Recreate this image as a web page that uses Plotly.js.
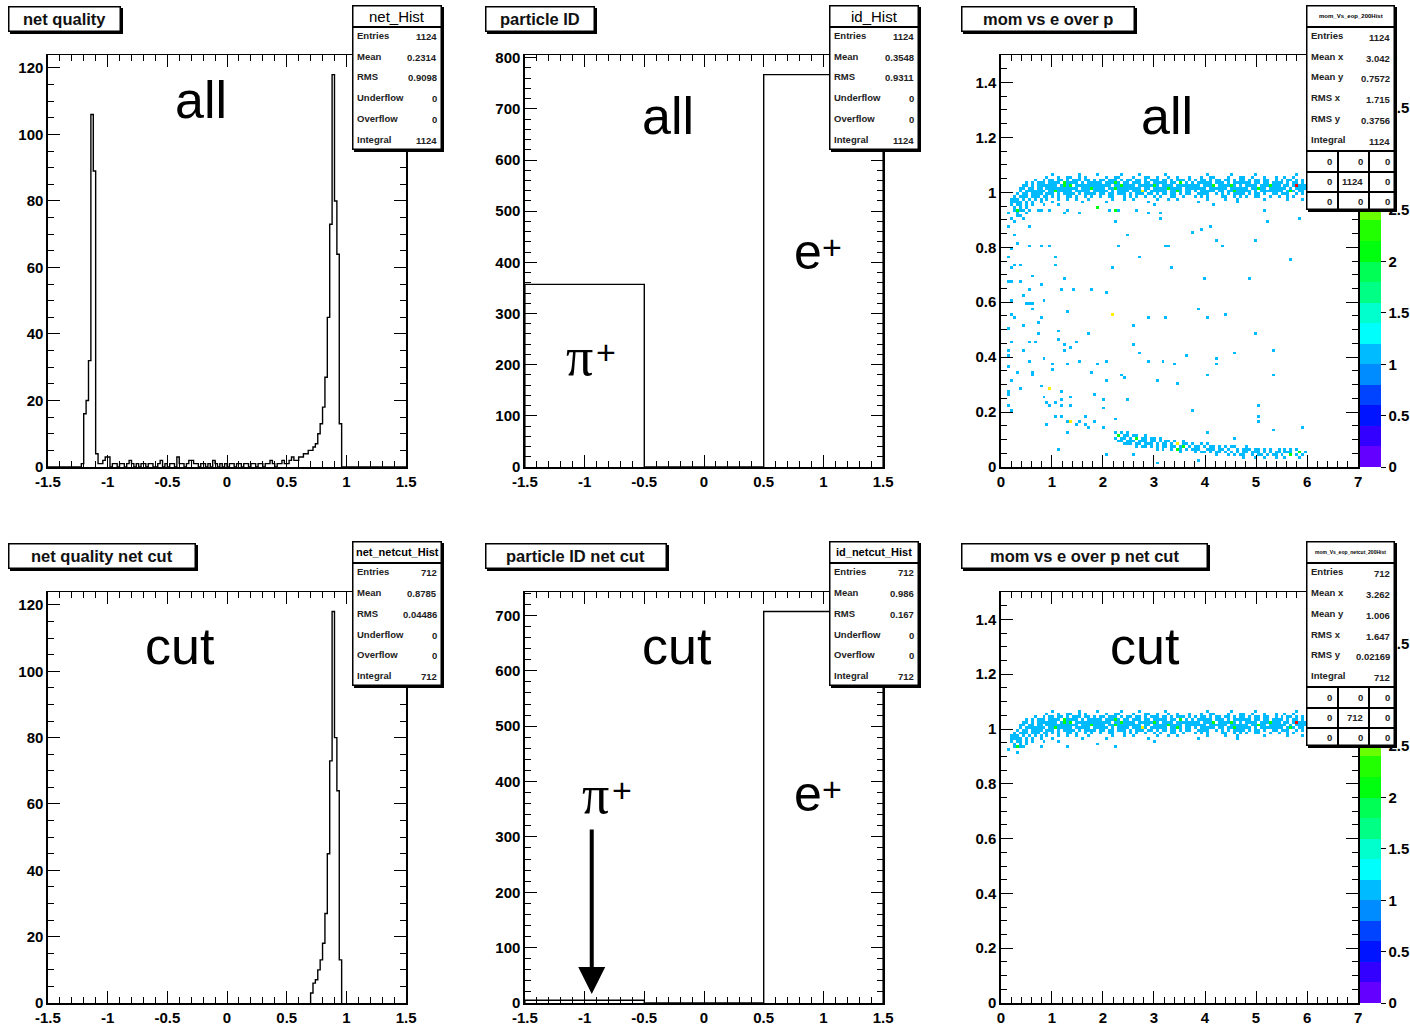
<!DOCTYPE html>
<html><head><meta charset="utf-8">
<script src="https://cdn.plot.ly/plotly-3.0.1.min.js"></script>
<style>html,body{margin:0;padding:0;background:#fff}#chart{width:1410px;height:1025px}</style>
</head><body><div id="chart"></div>
<script>
// ================= DATA =================
// net quality histogram: 150 bins of 0.02 from -1.5 to 1.5
const netBinLow = -1.5, netBinWidth = 0.02;
const netAllCounts = [
 0,0,0,0,0,0,0,0,0,0,
 0,0,0,0,1,16,20,32,106,89,
 4,1,1,2,3,3,0,1,1,0,
 1,1,0,1,2,1,0,1,0,1,
 1,0,1,1,0,0,1,2,0,1,
 0,1,1,0,3,1,1,0,1,2,
 2,1,1,0,1,1,0,1,0,2,
 1,0,1,0,1,0,1,1,0,1,
 1,0,1,1,0,1,1,0,1,1,
 0,1,1,2,1,0,1,1,2,1,
 1,2,3,2,2,3,3,4,4,5,
 5,6,7,10,13,18,27,45,73,118,
 80,64,13,0,0,0,0,0,0,0,
 0,0,0,0,0,0,0,0,0,0,
 0,0,0,0,0,0,0,0,0,0];
const netCutFirstBin = 110;
const netCutCounts = [3,6,7,10,13,18,27,45,73,118,80,64,13];

// particle ID histogram
const idEdges = [-1.5, -0.5, 0.5, 1.5];
const idAllCounts = [357, 0, 767];
const idCutCounts = [5, 0, 707];

// mom vs E/p 2D histogram: x 0..7 (120 bins), y 0..1.5 (150 bins)
const eopXMax = 7, eopYMax = 1.5, eopNX = 120, eopNY = 150;
// dense band near E/p = 1 (shared by both panels); each char = cell count, columns from col 3, rows from row 106 down
const bandFirstCol = 3, bandTopRow = 106;
const bandRows = [
 ".......... ....1..... ...1.....1 .......1.. ...1...... ..1....... ......1... ....1..... ..1....... ......1...",
 ".......... ..1...1..1 1..1.1.... ..1..11... .1...11..1 ...1..1... 1...1..11. ...1...11. .1...1...1 ..1..1....",
 "........1. .1.11.11.1 .111.11.1. 11.111.1.1 1.11.1.111 .11.1.111. 1.1.11.1.1 1.11.1.11. 1.11.11..1 .1.11.1.1.",
 ".....1.1.1 11.1111.21 111.1.1111 1.11121.11 .111.11.11 111.11.2.1 .1.11111.1 11.1.11111 1.11.11.11 11.1.11.1.",
 "....11.1.1 111111.121 2.11111111 1111.11211 11.1111121 .1111.1111 1111.1112. 111121.1.1 111.111211 1.11.14111",
 "...11.11.1 1.11111111 111.111211 11.1121111 1111.11.11 11121111.1 111111.111 111.111111 .11211.111 111.1.1111",
 "...1.11111 11.1121111 1.11111.11 111.1.1111 .11131.111 111.1121.1 1.1.11111. 11.1121111 1.1.111111 11.121.11.",
 "..1.11.111 1.111.1.11 11.1.1111. 11.11.111. 1.111.11.1 .11.11.1.1 1..1111..1 .1.1.1111. 1.11.1..11 .111..1.1.",
 ".1.111.111 .11.1.1..1 1.1..1.1.. 1..11...1. 1.1..1..1. 1...11..1. ..1.1.1... .11..1.1.1 ..11...1.. 1..1.1....",
 "111.1.1.1. 1.1...1..1 ..1...1... ....1...1. .1.......1 ...1..1... ......1... ..1...1... .....1.... ...1....1.",
 "1111.1.1.. 1...1..... ....1..... ..1....... ......1... .......... ...1...... ......1... .......... ..........",
 "1.11.1.1.. .1",
 ".1.1.1....",
 "..1.1"];
// low E/p band (all tracks only); columns from col 38, rows from row 12 down
const lowFirstCol = 38, lowTopRow = 12;
const lowRows = [
 "1.1.1..... ..........",
 ".2.11.11.. 1.........",
 "1.11.1.2.1 1.11.1....",
 ".11.111.11 1.11.1.11. 1..1......",
 "...111.11. 111.1.11.1 .3.11.1..1 .1........",
 ".......1.1 1.1.1.11.1 1.12.1.11. 1.11.1.1.1 1...1.....",
 ".......... ....1.1..1 .21.1.111. .111.11.1. .1.111.11. 1.1..1.1.1 .1...",
 ".......... .......... ..1....1.1 1.1.11.1.1 .1.11.111. 1.1.11.111 ..2.1",
 ".......... .......... .......... ....1...1. 1.11..1.11 .1.11.1..2 .1.1.",
 ".......... .......... .......... .......... ...1...1.. 1...1..1.. ..1.."];
// scattered cells that pass the cut (x = momentum, y = E/p)
const cutSparseX = [0.14,0.34,0.27,0.33,0.40,0.76,1.16,1.31,1.88,2.27,2.98];
const cutSparseY = [0.92,0.91,0.94,0.94,0.94,0.94,0.95,0.94,0.945,0.94,0.958];
// scattered cells, all tracks only
const allSparseX = [0.56,0.72,0.95,1.28,1.54,1.88,2.13,2.22,2.32,2.27,2.68,2.91,3.10,3.10,4.18,5.19,5.23,5.89,
 0.27,0.43,0.56,0.27,0.33,0.56,0.20,0.76,0.95,1.10,1.05,2.45,2.30,2.74,3.23,3.30,3.33,3.75,3.92,4.11,4.24,4.37,4.97,5.68,
 0.23,0.27,0.37,0.17,0.23,0.40,0.63,0.78,1.25,0.58,1.18,1.41,1.75,2.09,2.19,4.00,4.86,
 0.43,0.49,0.56,0.64,0.85,0.20,0.63,0.76,0.20,0.27,0.46,0.72,1.34,2.16,2.89,3.23,3.90,4.03,4.43,2.61,
 1.11,0.72,1.73,4.96,0.20,0.14,0.43,0.56,0.66,1.11,1.25,1.28,1.39,1.49,2.61,2.74,3.64,4.21,4.23,4.56,5.35,
 0.58,0.85,1.02,1.32,1.56,1.88,2.08,2.88,3.20,3.41,0.12,0.32,0.64,0.64,1.02,1.77,2.39,2.41,2.08,3.06,3.46,4.08,5.35,
 0.20,0.37,0.79,0.97,1.19,0.84,0.89,0.98,1.10,1.18,1.21,1.36,1.38,1.86,2.01,2.01,2.45,0.14,0.20,
 1.10,1.18,1.36,1.32,1.49,1.69,1.56,1.65,1.73,1.86,2.01,2.22,0.89,1.34,3.77,5.02,5.04,5.02,5.32,5.91,4.05,4.57,
 1.11,2.06,2.61,3.08,3.89,0.14,0.17,0.14,0.17,0.12,0.17,0.33,0.40,0.47,0.23];
const allSparseY = [0.94,0.93,0.933,0.921,0.921,0.949,0.94,0.94,0.94,0.897,0.94,0.921,0.925,0.90,0.95,0.93,0.897,0.90,
 0.897,0.903,0.878,0.842,0.818,0.808,0.793,0.80,0.80,0.738,0.766,0.842,0.808,0.766,0.80,0.805,0.72,0.85,0.86,0.878,0.827,0.80,0.827,0.759,
 0.72,0.73,0.738,0.671,0.671,0.671,0.696,0.669,0.68,0.647,0.647,0.641,0.647,0.637,0.72,0.688,0.68,
 0.62,0.598,0.598,0.598,0.608,0.604,0.58,0.549,0.556,0.545,0.519,0.523,0.568,0.558,0.549,0.549,0.576,0.549,0.558,0.516,
 0.498,0.489,0.489,0.489,0.452,0.421,0.421,0.452,0.452,0.464,0.446,0.42,0.43,0.45,0.44,0.418,0.409,0.397,0.373,0.418,0.428,
 0.385,0.397,0.376,0.376,0.381,0.376,0.385,0.385,0.381,0.376,0.367,0.348,0.348,0.33,0.357,0.345,0.336,0.324,0.315,0.315,0.308,0.336,0.336,
 0.318,0.288,0.296,0.284,0.275,0.257,0.239,0.22,0.23,0.22,0.24,0.257,0.22,0.267,0.245,0.215,0.24,0.227,0.202,
 0.186,0.184,0.169,0.162,0.158,0.186,0.16,0.15,0.145,0.162,0.145,0.178,0.156,0.129,0.206,0.223,0.186,0.169,0.138,0.145,0.125,0.105,
 0.068,0.048,0.048,0.016,0.026,0.87,0.76,0.50,0.40,0.27,0.26,0.925,0.915,0.925,0.905];
const allSparseDouble = [[2.16,0.558],[0.97,0.284],[1.36,0.169]];

// axis tick labels
const netTickVals = [-1.5,-1,-0.5,0,0.5,1,1.5];
const netTickText = ['-1.5','-1','-0.5','0','0.5','1','1.5'];
const netYVals = [0,20,40,60,80,100,120];
const idYAllVals = [0,100,200,300,400,500,600,700,800];
const idYCutVals = [0,100,200,300,400,500,600,700];
const momTickVals = [0,1,2,3,4,5,6,7];
const eopTickVals = [0,0.2,0.4,0.6,0.8,1,1.2,1.4];
const eopTickText = ['0','0.2','0.4','0.6','0.8','1','1.2','1.4'];
const zTickVals = [0,0.5,1,1.5,2,2.5,3,3.5,4];
const zTickText = ['0','0.5','1','1.5','2','2.5','3','3.5','4'];

// titles and stats texts
const panelTitles = ['net quality','particle ID','mom vs e over p','net quality net cut','particle ID net cut','mom vs e over p net cut'];
const statsNames1D = ['Entries','Mean','RMS','Underflow','Overflow','Integral'];
const statsNames2D = ['Entries','Mean x','Mean y','RMS x','RMS y','Integral'];
const statsNetAll = ['1124','0.2314','0.9098','0','0','1124'];
const statsIdAll = ['1124','0.3548','0.9311','0','0','1124'];
const statsMomAll = ['1124','3.042','0.7572','1.715','0.3756','1124'];
const statsNetCut = ['712','0.8785','0.04486','0','0','712'];
const statsIdCut = ['712','0.986','0.167','0','0','712'];
const statsMomCut = ['712','3.262','1.006','1.647','0.02169','712'];
const gridMomAll = [['0','0','0'],['0','1124','0'],['0','0','0']];
const gridMomCut = [['0','0','0'],['0','712','0'],['0','0','0']];

// ================= DRAWING =================
const W = 1410, H = 1025;
const fx = p => p / W, fy = p => 1 - p / H;
const FONT = 'Liberation Sans, Arial, Helvetica, sans-serif';
const SERIF = 'Liberation Serif, Times New Roman, serif';

function stepXY(edges, counts) {
  const x = [edges[0]], y = [0];
  counts.forEach((c, i) => { x.push(edges[i]); y.push(c); });
  x.push(edges[edges.length - 1]); y.push(0);
  return {x, y};
}
function netEdges(first, n) { const e = []; for (let k = 0; k <= n; k++) e.push(netBinLow + (first + k) * netBinWidth); return e; }

const dxE = eopXMax / eopNX, dyE = eopYMax / eopNY;
function emptyGrid() { return Array.from({length: eopNY}, () => Array(eopNX).fill(null)); }
function addCell(z, r, c, n) { if (r < 0 || r >= eopNY || c < 0 || c >= eopNX) return; z[r][c] = Math.min(4, (z[r][c] || 0) + n); }
function addMap(z, rows, topRow, firstCol) {
  rows.forEach((s, i) => { const str = s.replace(/ /g, ''); for (let j = 0; j < str.length; j++) { if (str[j] !== '.') addCell(z, topRow - i, firstCol + j, +str[j]); } });
}
function addPts(z, xs, ys, n) { xs.forEach((x, i) => addCell(z, Math.floor(ys[i] / dyE), Math.floor(x / dxE), n)); }

const zCut = emptyGrid();
addMap(zCut, bandRows, bandTopRow, bandFirstCol);
addPts(zCut, cutSparseX, cutSparseY, 1);
const zAll = emptyGrid();
addMap(zAll, bandRows, bandTopRow, bandFirstCol);
addPts(zAll, cutSparseX, cutSparseY, 1);
addMap(zAll, lowRows, lowTopRow, lowFirstCol);
addPts(zAll, allSparseX, allSparseY, 1);
addPts(zAll, allSparseDouble.map(p => p[0]), allSparseDouble.map(p => p[1]), 2);

// ROOT-like rainbow palette, 20 contour levels
function hsl2rgb(h) { const f = n => { const k = (n + h / 30) % 12; return 0.5 - 0.5 * Math.max(-1, Math.min(k - 3, 9 - k, 1)); };
  return 'rgb(' + [f(0), f(8), f(4)].map(v => Math.round(v * 255)).join(',') + ')'; }
function levelColor(i) { const idx = Math.floor((i + 0.99) * 50 / 20); return hsl2rgb(280 - (idx + 1) * 5.6); }
const colorscale = [];
for (let i = 0; i < 20; i++) {
  const lo = i === 0 ? 0 : i / 20 - 1e-4, hi = i === 19 ? 1 : (i + 1) / 20 - 1e-4;
  colorscale.push([lo, levelColor(i)], [hi, levelColor(i)]);
}

const frames = {1:[48,55,407,467], 2:[526,55,885,467], 3:[1003,55,1361,467], 4:[48,592,407,1003], 5:[526,592,885,1003], 6:[1003,592,1361,1003]};
const tickFont = {family: FONT, size: 15, color: '#000', weight: 'bold'};
function axis(n, isX, range, vals, text, minorDtick) {
  const f = frames[n];
  return {
    domain: isX ? [fx(f[0]), fx(f[2])] : [fy(f[3]), fy(f[1])],
    anchor: (isX ? 'y' : 'x') + (n === 1 ? '' : n),
    range, tickmode: 'array', tickvals: vals, ticktext: text || vals.map(String),
    ticks: 'inside', ticklen: 12, tickwidth: 1, tickcolor: '#000',
    showline: true, linecolor: '#000', linewidth: 1.5, mirror: 'allticks',
    showgrid: false, zeroline: false, fixedrange: true, tickfont: tickFont,
    minor: {ticks: 'inside', ticklen: 6, tickwidth: 1, tickcolor: '#000', dtick: minorDtick, tick0: 0, showgrid: false}
  };
}
function cbar(bottomPx) {
  return {x: fx(1363), xanchor: 'left', xpad: 0, y: fy(bottomPx), yanchor: 'bottom', ypad: 0,
    len: 411, lenmode: 'pixels', thickness: 21, thicknessmode: 'pixels', outlinewidth: 0,
    tickmode: 'array', tickvals: zTickVals, ticktext: zTickText, ticks: 'outside', ticklen: 5, tickcolor: '#000', tickfont: tickFont};
}

const lineStyle = {color: '#000', width: 1.4, shape: 'hv'};
const s1 = stepXY(netEdges(0, netAllCounts.length), netAllCounts);
const s4 = stepXY(netEdges(netCutFirstBin, netCutCounts.length), netCutCounts);
const s2 = stepXY(idEdges, idAllCounts);
const s5 = stepXY(idEdges, idCutCounts);
const hm = (z, n, bottom) => ({type: 'heatmap', z, x0: dxE / 2, dx: dxE, y0: dyE / 2, dy: dyE, zmin: 0, zmax: 4,
  colorscale, zsmooth: false, hoverinfo: 'skip', xaxis: 'x' + n, yaxis: 'y' + n, colorbar: cbar(bottom)});
const data = [
  {type: 'scatter', mode: 'lines', x: s1.x, y: s1.y, line: lineStyle, xaxis: 'x', yaxis: 'y', hoverinfo: 'skip'},
  {type: 'scatter', mode: 'lines', x: s2.x, y: s2.y, line: lineStyle, xaxis: 'x2', yaxis: 'y2', hoverinfo: 'skip'},
  hm(zAll, 3, 467),
  {type: 'scatter', mode: 'lines', x: s4.x, y: s4.y, line: lineStyle, xaxis: 'x4', yaxis: 'y4', hoverinfo: 'skip'},
  {type: 'scatter', mode: 'lines', x: s5.x, y: s5.y, line: lineStyle, xaxis: 'x5', yaxis: 'y5', hoverinfo: 'skip'},
  hm(zCut, 6, 1003)
];

// ---- annotations (boxes and texts) ----
const ann = [];
function rect(x0, y0, x1, y1, fill, bw) {
  bw = bw || 0;
  ann.push({xref: 'paper', yref: 'paper', x: fx(x0), y: fy(y0), xanchor: 'left', yanchor: 'top', text: ' ', showarrow: false,
    width: Math.max(1, x1 - x0 - 2 * bw), height: Math.max(1, y1 - y0 - 2 * bw), bgcolor: fill,
    bordercolor: '#000', borderwidth: bw, borderpad: 0, font: {size: 1}});
}
function label(x, y, text, font, anchor) {
  ann.push({xref: 'paper', yref: 'paper', x: fx(x), y: fy(y), xanchor: anchor || 'left', yanchor: 'middle',
    text, showarrow: false, borderpad: 0, font});
}
const sf = (size, weight, color) => ({family: FONT, size, color: color || '#000', weight: weight || 'normal'});
function boxWithShadow(x0, y0, x1, y1) { rect(x0 + 2, y0 + 2, x1 + 2, y1 + 2, '#000', 0); rect(x0, y0, x1, y1, '#fff', 1.5); }

// title boxes
const titleBoxes = [[8,6,121,32],[486,6,596,32],[963,6,1137,32],[8,543,196,569],[486,543,668,569],[963,543,1210,569]];
titleBoxes.forEach((b, i) => { boxWithShadow(b[0], b[1], b[2], b[3]);
  label((b[0] + b[2]) / 2, (b[1] + b[3]) / 2, panelTitles[i], sf(16.5, 'bold', '#111'), 'center'); });

// stats boxes
const rowOff = [30.5, 51, 72, 93, 113.5, 134.5];
const statFont = sf(9.5, 'bold', '#222');
function stats1D(x0, y0, title, tfont, values) {
  const x1 = x0 + 90, y1 = y0 + 145;
  boxWithShadow(x0, y0, x1, y1);
  rect(x0, y0 + 21, x1, y0 + 22.5, '#000', 0);
  label((x0 + x1) / 2, y0 + 11, title, tfont, 'center');
  statsNames1D.forEach((nm, i) => {
    label(x0 + 4, y0 + rowOff[i], nm, statFont, 'left');
    label(x1 - 4, y0 + rowOff[i] + 1, values[i], statFont, 'right');
  });
}
function stats2D(x0, y0, title, tsize, values, grid) {
  const x1 = x0 + 89, y1 = y0 + 205;
  boxWithShadow(x0, y0, x1, y1);
  rect(x0, y0 + 21, x1, y0 + 22.5, '#000', 0);
  label((x0 + x1) / 2, y0 + 11, title, sf(tsize, 'bold'), 'center');
  statsNames2D.forEach((nm, i) => {
    label(x0 + 4, y0 + rowOff[i], nm, statFont, 'left');
    label(x1 - 4, y0 + rowOff[i] + 2, values[i], statFont, 'right');
  });
  const gy = [y0 + 145, y0 + 165.5, y0 + 186, y1];
  for (let k = 0; k < 3; k++) rect(x0, gy[k], x1, gy[k] + 1.5, '#000', 0);
  const gx = [x0, x0 + 30.5, x0 + 61.5, x1];
  rect(gx[1], gy[0], gx[1] + 1.5, y1, '#000', 0);
  rect(gx[2], gy[0], gx[2] + 1.5, y1, '#000', 0);
  for (let r = 0; r < 3; r++) for (let c = 0; c < 3; c++)
    label(gx[c + 1] - 4, (gy[r] + gy[r + 1]) / 2 + 1, grid[r][c], statFont, 'right');
}
stats1D(353, 5, 'net_Hist', sf(15), statsNetAll);
stats1D(831, 5, 'id_Hist', sf(15), statsIdAll);
stats2D(1309, 5, 'mom_Vs_eop_200Hist', 6, statsMomAll, gridMomAll);
stats1D(353, 541, 'net_netcut_Hist', sf(11, 'bold'), statsNetCut);
stats1D(831, 541, 'id_netcut_Hist', sf(11, 'bold'), statsIdCut);
stats2D(1309, 541, 'mom_Vs_eop_netcut_200Hist', 5, statsMomCut, gridMomCut);

// big overlay labels (baseline given in px)
const big = (x, yb, text, size, anchor, family) => ann.push({xref: 'paper', yref: 'paper', x: fx(x), y: fy(yb + 0.212 * size), xanchor: anchor, yanchor: 'bottom',
  text, showarrow: false, borderpad: 0, font: {family: family || FONT, size, color: '#000'}});
big(201, 119, 'all', 52, 'center');
big(669, 135, 'all', 52, 'center');
big(1169, 135, 'all', 52, 'center');
big(180, 665, 'cut', 52, 'center');
big(678, 665, 'cut', 52, 'center');
big(1147, 665, 'cut', 52, 'center');
// particle labels: letter + superscript plus
const plusFont = sf(34);
big(795, 270, 'e', 50, 'left');
label(834, 247, '+', plusFont, 'center');
big(566, 377, 'π', 54, 'left', SERIF);
label(607, 352, '+', plusFont, 'center');
big(795, 812, 'e', 50, 'left');
label(834, 789, '+', plusFont, 'center');
big(582, 815, 'π', 54, 'left', SERIF);
label(623, 790, '+', plusFont, 'center');
// arrow in particle ID net cut
ann.push({xref: 'paper', yref: 'paper', x: fx(593), y: fy(994), ax: 0, ay: -166, text: '', showarrow: true,
  arrowhead: 2, arrowsize: 1.35, arrowwidth: 4, arrowcolor: '#000'});

const layout = {
  width: W, height: H, autosize: false, margin: {l: 0, r: 0, t: 0, b: 0, pad: 0},
  paper_bgcolor: '#fff', plot_bgcolor: '#fff', showlegend: false,
  xaxis: axis(1, true, [-1.5, 1.5], netTickVals, netTickText, 0.1),
  yaxis: axis(1, false, [0, 123.9], netYVals, null, 5),
  xaxis2: axis(2, true, [-1.5, 1.5], netTickVals, netTickText, 0.1),
  yaxis2: axis(2, false, [0, 805.35], idYAllVals, null, 20),
  xaxis3: axis(3, true, [0, 7], momTickVals, null, 0.2),
  yaxis3: axis(3, false, [0, 1.5], eopTickVals, eopTickText, 0.05),
  xaxis4: axis(4, true, [-1.5, 1.5], netTickVals, netTickText, 0.1),
  yaxis4: axis(4, false, [0, 123.9], netYVals, null, 5),
  xaxis5: axis(5, true, [-1.5, 1.5], netTickVals, netTickText, 0.1),
  yaxis5: axis(5, false, [0, 742.35], idYCutVals, null, 20),
  xaxis6: axis(6, true, [0, 7], momTickVals, null, 0.2),
  yaxis6: axis(6, false, [0, 1.5], eopTickVals, eopTickText, 0.05),
  annotations: ann
};
Plotly.newPlot('chart', data, layout, {staticPlot: true, displayModeBar: false});
</script></body></html>
